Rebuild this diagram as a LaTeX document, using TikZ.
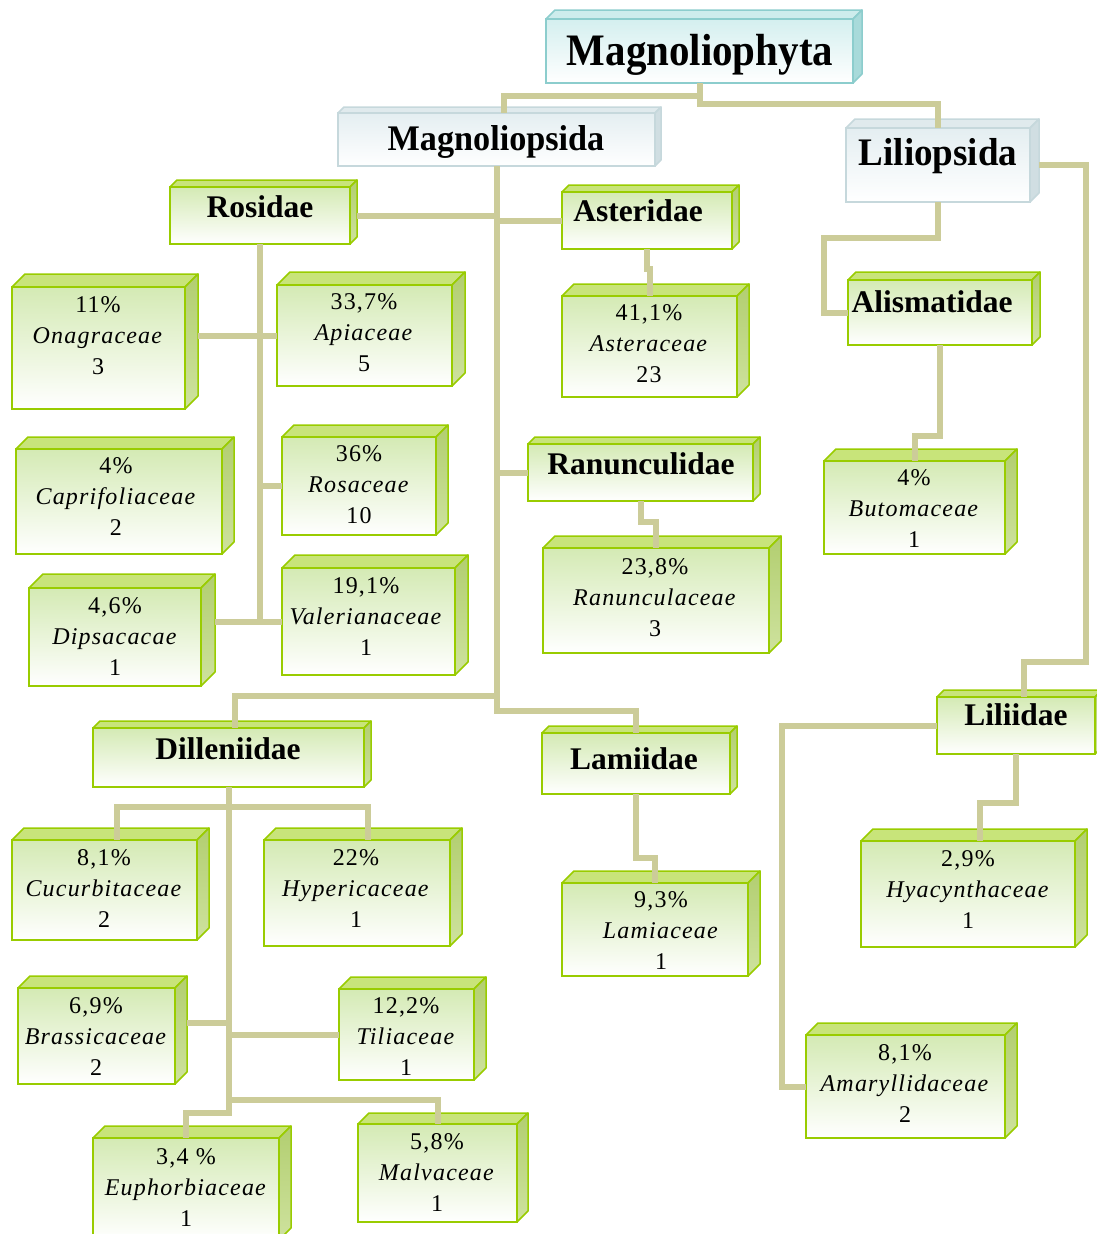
\documentclass[tikz,border=0pt]{standalone}
\usepackage{fontspec}
\setmainfont{Liberation Serif}
\newfontfamily\famfont[LetterSpace=5]{Liberation Serif}

\definecolor{linkc}{RGB}{204,204,153}
\definecolor{grnedge}{RGB}{153,204,0}
\definecolor{grnfront}{RGB}{212,234,180}
\definecolor{grntop}{RGB}{200,228,122}
\definecolor{grnside}{RGB}{178,206,112}
\definecolor{grnsidelow}{RGB}{206,226,158}
\definecolor{tealedge}{RGB}{140,205,205}
\definecolor{tealfront}{RGB}{212,239,239}
\definecolor{tealtop}{RGB}{205,236,236}
\definecolor{tealside}{RGB}{168,218,218}
\definecolor{paleedge}{RGB}{198,216,220}
\definecolor{palefront}{RGB}{228,238,241}
\definecolor{paletop}{RGB}{224,234,237}
\definecolor{paleside}{RGB}{208,222,226}

\tikzset{
  link/.style={draw=linkc, line width=6pt},
  grn front/.style={draw=grnedge, line width=2pt, top color=grnfront, bottom color=white, inner sep=0pt, outer sep=0pt},
  grn top/.style={fill=grntop, draw=grnedge, line width=1.5pt, line join=round},
  grn side/.style={top color=grnside, bottom color=grnsidelow, draw=grnedge, line width=1.5pt, line join=round},
  teal front/.style={draw=tealedge, line width=2pt, top color=tealfront, bottom color=white, inner sep=0pt, outer sep=0pt},
  teal top/.style={fill=tealtop, draw=tealedge, line width=1.5pt, line join=round},
  teal side/.style={fill=tealside, draw=tealedge, line width=1.5pt, line join=round},
  pale front/.style={draw=paleedge, line width=2pt, top color=palefront, bottom color=white, inner sep=0pt, outer sep=0pt},
  pale top/.style={fill=paletop, draw=paleedge, line width=1.5pt, line join=round},
  pale side/.style={fill=paleside, draw=paleedge, line width=1.5pt, line join=round},
  hd/.style={anchor=base, inner sep=0pt, font=\bfseries\fontsize{31.5}{36}\selectfont},
  fam/.style={align=center, inner sep=0pt, font=\famfont\fontsize{24}{31}\selectfont}
}

% box with depth: name, kind, depth, x1, y1, x2, y2 (front face)
\newcommand\slab[7]{%
  \filldraw[#2 top] (#4,#5) -- ({#4+#3},{#5-#3}) -- ({#6+#3},{#5-#3}) -- (#6,#5) -- cycle;
  \filldraw[#2 side] (#6,#5) -- ({#6+#3},{#5-#3}) -- ({#6+#3},{#7-#3}) -- (#6,#7) -- cycle;
  \node[#2 front, minimum width={#6-#4}, minimum height={#7-#5}] (#1) at ({(#4+#6)/2},{(#5+#7)/2}) {};
}

\begin{document}
\begin{tikzpicture}[x=1pt, y=-1pt]
  \useasboundingbox (0,0) rectangle (1097,1234);

  % division and classes
  \slab{phy}{teal}{9}{546}{19}{853}{83}
  \slab{mgs}{pale}{6}{338}{113}{655}{166}
  \slab{lls}{pale}{9}{846}{128}{1030}{202}

  % subclasses
  \slab{ros}{grn}{7}{170}{187}{350}{244}
  \slab{ast}{grn}{7}{562}{192}{732}{249}
  \slab{ali}{grn}{8}{848}{280}{1032}{345}
  \slab{ran}{grn}{7}{528}{444}{753}{501}
  \slab{dil}{grn}{7}{93}{728}{364}{787}
  \slab{lam}{grn}{7}{542}{733}{730}{794}
  \slab{lii}{grn}{7}{937}{697}{1095}{754}

  % families
  \slab{ona}{grn}{13}{12}{287}{185}{409}
  \slab{api}{grn}{13}{277}{285}{452}{386}
  \slab{cap}{grn}{12}{16}{449}{222}{554}
  \slab{rsc}{grn}{12}{282}{437}{436}{535}
  \slab{dip}{grn}{14}{29}{588}{201}{686}
  \slab{val}{grn}{13}{282}{568}{455}{675}
  \slab{astc}{grn}{12}{562}{296}{737}{397}
  \slab{ranc}{grn}{12}{543}{548}{769}{653}
  \slab{but}{grn}{12}{824}{461}{1005}{554}
  \slab{cuc}{grn}{12}{12}{840}{197}{940}
  \slab{hyp}{grn}{12}{264}{840}{450}{946}
  \slab{lamc}{grn}{12}{562}{883}{748}{976}
  \slab{hya}{grn}{12}{861}{841}{1075}{947}
  \slab{bra}{grn}{12}{18}{988}{175}{1084}
  \slab{til}{grn}{12}{339}{989}{474}{1080}
  \slab{ama}{grn}{12}{806}{1035}{1005}{1138}
  \slab{eup}{grn}{12}{93}{1138}{279}{1240}
  \slab{mal}{grn}{11}{358}{1124}{517}{1222}

  % connectors
  \draw[link] (phy.south) -- ++(0,13) -| ([xshift=7pt]mgs.north);
  \draw[link] (phy.south) -- ++(0,21) -| (lls.north);
  \draw[link] (mgs.south) -- ++(0,545) -| (lam.north);
  \draw[link] (mgs.south) ++(0,530) -| ([xshift=6pt]dil.north);
  \draw[link] ([xshift=7pt]ros.east) -- (ros.east -| mgs.south);
  \draw[link] (ast.west) -- (ast.west -| mgs.south);
  \draw[link] (ran.west) -- (ran.west -| mgs.south);
  \draw[link] (ros.south) -- (ros.south |- val.west);
  \draw[link] ([xshift=13pt]ona.east |- api.west) -- (api.west);
  \draw[link] (rsc.west) -- (rsc.west -| ros.south);
  \draw[link] ([xshift=14pt]dip.east |- val.west) -- (val.west);
  \draw[link] (ast.south) -- ++(0,20) -| (astc.north);
  \draw[link] (ran.south) -- ++(0,21) -| (ranc.north);
  \draw[link] (lam.south) -- ++(0,64) -| (lamc.north);
  \draw[link] (lls.south) -- ++(0,36) -- ++(-114,0) |- (ali.west);
  \draw[link] ([xshift=9pt]lls.east) -| (1086,662) -| ([xshift=8pt]lii.north);
  \draw[link] (ali.south) -- ++(0,91) -| (but.north);
  \draw[link] (lii.south) -- ++(0,49) -| ([xshift=12pt]hya.north);
  \draw[link] (lii.west) -- ++(-155,0) |- (ama.west);
  \draw[link] (dil.south) -- ++(0,313) -| (mal.north);
  \draw[link] (dil.south) ++(0,313) -- ++(0,13) -| (eup.north);
  \draw[link] ([xshift=12pt]cuc.north) -- ++(0,-33) -| ([xshift=11pt]hyp.north);
  \draw[link] ([xshift=12pt,yshift=13pt]bra.east) -- ++(42,0);
  \draw[link] (til.west) -- (til.west -| dil.south);

  % headings
  \node[hd, font=\bfseries\fontsize{45}{50}\selectfont] (phy-t) at (700,65) {\scalebox{0.91}[1]{Magnoliophyta}};
  \node[hd, font=\bfseries\fontsize{36}{40}\selectfont] (mgs-t) at (496,150) {\scalebox{0.95}[1]{Magnoliopsida}};
  \node[hd, font=\bfseries\fontsize{39}{44}\selectfont] (lls-t) at (938,165) {\scalebox{0.95}[1]{Liliopsida}};
  \node[hd] (ros-t) at (260,217) {Rosidae};
  \node[hd] (ast-t) at (638,221) {Asteridae};
  \node[hd] (ali-t) at (932,312) {Alismatidae};
  \node[hd] (ran-t) at (641,474) {Ranunculidae};
  \node[hd] (dil-t) at (228,759) {Dilleniidae};
  \node[hd] (lam-t) at (634,769) {Lamiidae};
  \node[hd] (lii-t) at (1016,725) {Liliidae};

  % family labels
  \node[fam] (ona-t) at (98,336) {11\%\\\textit{Onagraceae}\\3};
  \node[fam] (api-t) at (364,333) {33,7\%\\\textit{Apiaceae}\\5};
  \node[fam] (cap-t) at (116,497) {4\%\\\textit{Caprifoliaceae}\\2};
  \node[fam] (rsc-t) at (359,485) {36\%\\\textit{Rosaceae}\\10};
  \node[fam] (dip-t) at (115,637) {4,6\%\\\textit{Dipsacacae}\\1};
  \node[fam] (val-t) at (366,617) {19,1\%\\\textit{Valerianaceae}\\1};
  \node[fam] (astc-t) at (649,344) {41,1\%\\\textit{Asteraceae}\\23};
  \node[fam] (ranc-t) at (655,598) {23,8\%\\\textit{Ranunculaceae}\\3};
  \node[fam] (but-t) at (914,509) {4\%\\\textit{Butomaceae}\\1};
  \node[fam] (cuc-t) at (104,889) {8,1\%\\\textit{Cucurbitaceae}\\2};
  \node[fam] (hyp-t) at (356,889) {22\%\\\textit{Hypericaceae}\\1};
  \node[fam] (lamc-t) at (661,931) {9,3\%\\\textit{Lamiaceae}\\1};
  \node[fam] (hya-t) at (968,890) {2,9\%\\\textit{Hyacynthaceae}\\1};
  \node[fam] (bra-t) at (96,1037) {6,9\%\\\textit{Brassicaceae}\\2};
  \node[fam] (til-t) at (406,1037) {12,2\%\\\textit{Tiliaceae}\\1};
  \node[fam] (ama-t) at (905,1084) {8,1\%\\\textit{Amaryllidaceae}\\2};
  \node[fam] (eup-t) at (186,1188) {3,4 \%\\\textit{Euphorbiaceae}\\1};
  \node[fam] (mal-t) at (437,1173) {5,8\%\\\textit{Malvaceae}\\1};
\end{tikzpicture}
\end{document}
